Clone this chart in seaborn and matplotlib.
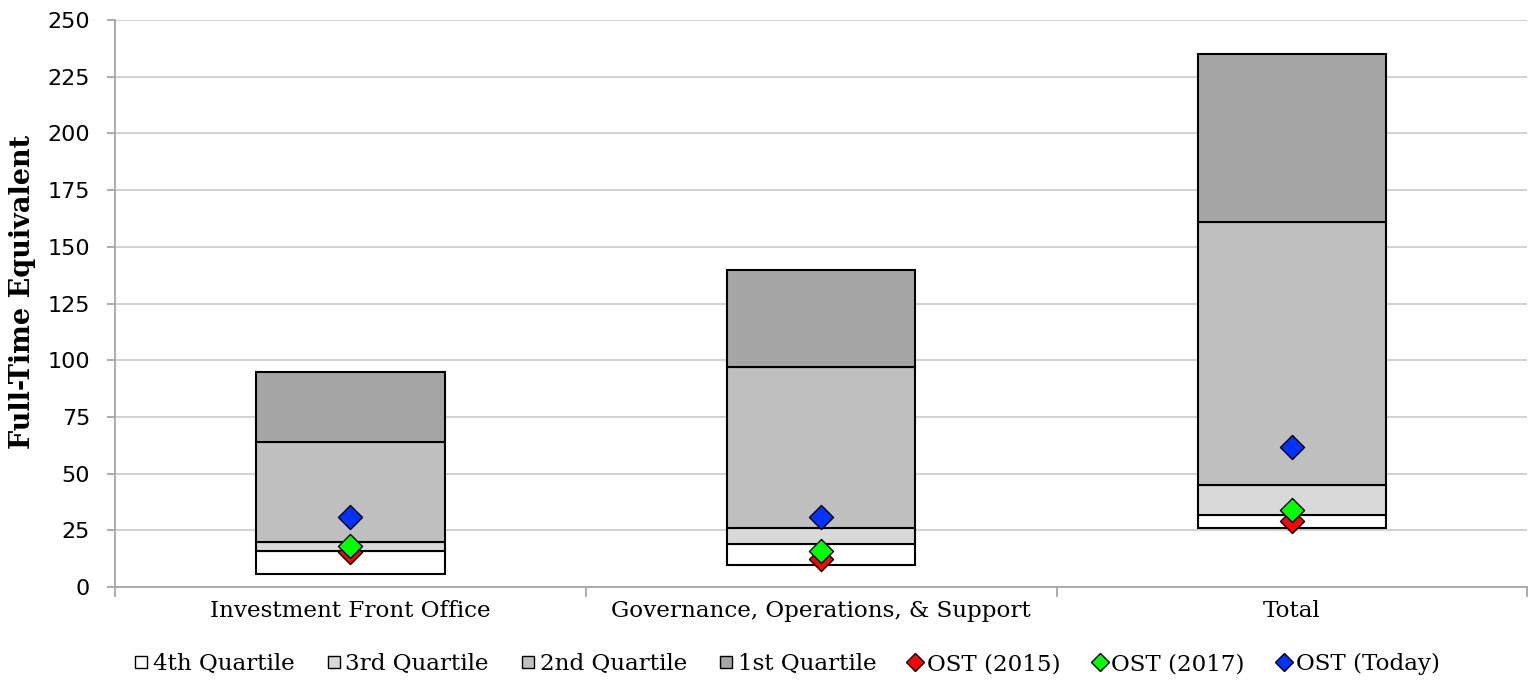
"""Floating quartile bars with OST staffing markers."""

import matplotlib
matplotlib.use("Agg")
import matplotlib.pyplot as plt
from matplotlib.lines import Line2D
import numpy as np
import pandas as pd
import seaborn as sns

categories = ["Investment Front Office", "Governance, Operations, & Support", "Total"]
quartile_names = ["4th Quartile", "3rd Quartile", "2nd Quartile", "1st Quartile"]
base = [6, 10, 26]
q4_top = [16, 19, 32]
q3_top = [20, 26, 45]
q2_top = [64, 97, 161]
q1_top = [95, 140, 235]
ost_names = ["OST (2015)", "OST (2017)", "OST (Today)"]
ost_2015 = [15.5, 12.5, 29]
ost_2017 = [18.3, 16, 34]
ost_today = [31, 31, 62]
yticks = list(range(0, 251, 25))

q_colors = ["#FFFFFF", "#D9D9D9", "#BFBFBF", "#A6A6A6"]
ost_colors = ["#FF0000", "#00FF00", "#0033FF"]
SERIF = ["DejaVu Serif"]
AXIS_GREY = "#A6A6A6"

sns.set_theme(style="white")
plt.rcParams["font.family"] = ["DejaVu Sans"]
plt.rcParams["text.color"] = "black"

fig, ax = plt.subplots(figsize=(15.28, 6.9), dpi=100)
fig.subplots_adjust(left=0.0753, right=0.9995, top=0.971, bottom=0.149)

# floating stacked bars: each quartile sits on the top of the previous one
edges = [base, q4_top, q3_top, q2_top, q1_top]
for i, name in enumerate(quartile_names):
    lo, hi = np.array(edges[i]), np.array(edges[i + 1])
    df = pd.DataFrame({"cat": categories, "h": hi - lo})
    sns.barplot(data=df, x="cat", y="h", bottom=lo, color=q_colors[i], width=0.4,
                edgecolor="black", linewidth=1.5, saturation=1, ax=ax, zorder=2)

for vals, color in zip([ost_2015, ost_2017, ost_today], ost_colors):
    df = pd.DataFrame({"cat": categories, "v": vals})
    sns.scatterplot(data=df, x="cat", y="v", marker="D", s=150, color=color,
                    edgecolor="black", linewidth=1, ax=ax, zorder=3)

ax.set_xlim(-0.5, 2.5)
ax.set_ylim(0, 250)
ax.set_yticks(yticks)
ax.yaxis.grid(True, color="#CFCFCF", linewidth=1.3, zorder=0)
ax.set_axisbelow(True)
for s in ["top", "right"]:
    ax.spines[s].set_visible(False)
for s in ["left", "bottom"]:
    ax.spines[s].set_color(AXIS_GREY)
    ax.spines[s].set_linewidth(1.3)

ax.set_xticks([0, 1, 2])
ax.set_xticklabels(categories, fontsize=16.6, family=SERIF, color="black")
ax.set_xticks([-0.5, 0.5, 1.5, 2.5], minor=True)
ax.tick_params(axis="x", which="major", length=0, pad=9)
ax.tick_params(axis="x", which="minor", length=7, color=AXIS_GREY, width=1.3, bottom=True)
ax.tick_params(axis="y", length=6, color=AXIS_GREY, width=1.3, labelsize=16,
               labelcolor="black", left=True, pad=12)
ax.set_xlabel("")
ax.set_ylabel("")
fig.text(23 / 1528, 1 - 292 / 690, "Full-Time Equivalent", rotation=90, ha="center", va="center",
         fontsize=19.5, fontweight="bold", family=SERIF, color="black")

handles = [Line2D([], [], marker="s", linestyle="", markersize=9, markerfacecolor=c,
                  markeredgecolor="black", markeredgewidth=1) for c in q_colors]
handles += [Line2D([], [], marker="D", linestyle="", markersize=9, markerfacecolor=c,
                   markeredgecolor="black", markeredgewidth=1) for c in ost_colors]
fig.legend(handles, quartile_names + ost_names, loc="center",
           bbox_to_anchor=(787 / 1528, 1 - 664 / 690),
           ncol=7, frameon=False, prop={"family": SERIF, "size": 16.6},
           handlelength=0.6, handletextpad=0.2, columnspacing=1.4)

fig.savefig("out.png", dpi=100)
